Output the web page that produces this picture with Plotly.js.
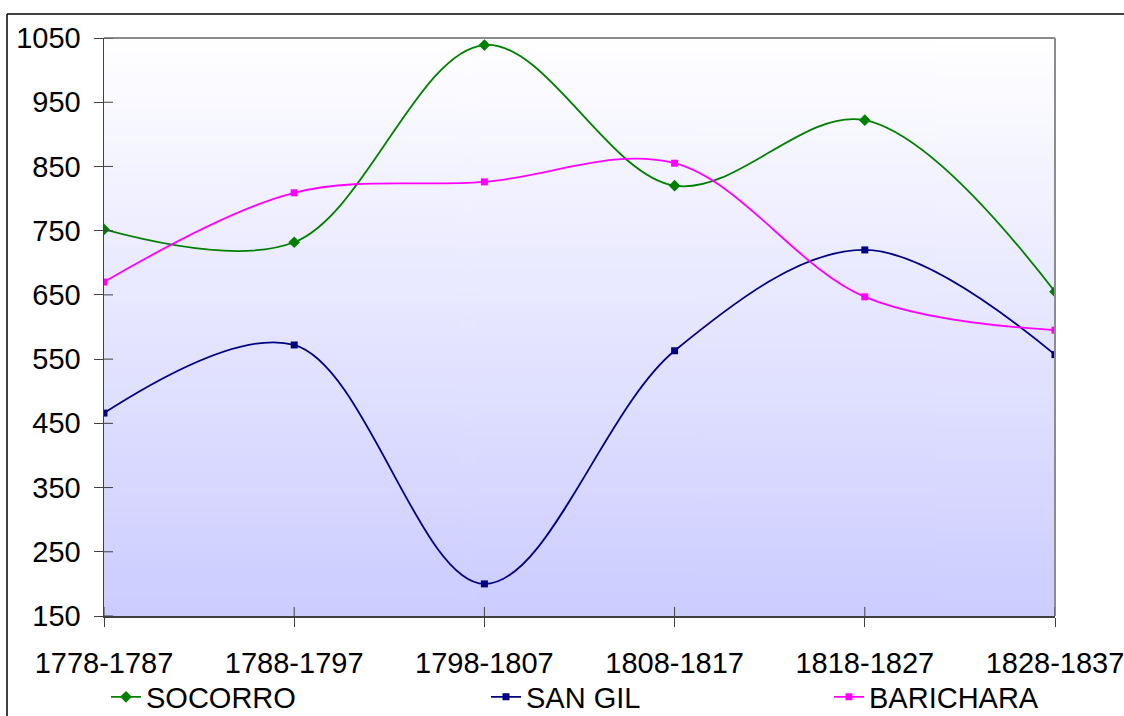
<!DOCTYPE html>
<html>
<head>
<meta charset="utf-8">
<script src="https://cdn.plot.ly/plotly-3.0.1.min.js"></script>
<style>
html,body{margin:0;padding:0;background:#fff;}
#chart{width:1124px;height:716px;}
</style>
</head>
<body>
<div id="chart"></div>
<script>
// ---- data ----
const periods = ["1778-1787","1788-1797","1798-1807","1808-1817","1818-1827","1828-1837"];
const socorro = [752, 732, 1039, 820, 922, 655];
const sanGil = [466, 572, 200, 563, 720, 557];
const barichara = [670, 809, 826, 855, 647, 595];
const yTicks = [150, 250, 350, 450, 550, 650, 750, 850, 950, 1050];

// ---- layout constants (px) ----
const W = 1124, H = 716;
const L = 104, R = 69, T = 38, B = 100;
const pw = W - L - R, ph = H - T - B;
const px2x = p => (p - L) / pw;
const py2y = p => (H - B - p) / ph;

const xIdx = periods.map((_, i) => i);

// gradient background image
const cv = document.createElement('canvas');
cv.width = 4; cv.height = 256;
const ctx = cv.getContext('2d');
const g = ctx.createLinearGradient(0, 0, 0, 256);
g.addColorStop(0, '#ffffff');
g.addColorStop(1, '#ccccff');
ctx.fillStyle = g;
ctx.fillRect(0, 0, 4, 256);
const bgURL = cv.toDataURL('image/png');

const lineW = 1.8;
const traces = [
  {x: xIdx, y: socorro, name: 'SOCORRO', type: 'scatter', mode: 'lines+markers',
   line: {color: '#008000', width: lineW, shape: 'spline', smoothing: 1},
   marker: {symbol: 'diamond', size: 9, color: '#008000'}, legend: 'legend', hoverinfo: 'skip'},
  {x: xIdx, y: sanGil, name: 'SAN GIL', type: 'scatter', mode: 'lines+markers',
   line: {color: '#000080', width: lineW, shape: 'spline', smoothing: 1},
   marker: {symbol: 'square', size: 7, color: '#000080'}, legend: 'legend2', hoverinfo: 'skip'},
  {x: xIdx, y: barichara, name: 'BARICHARA', type: 'scatter', mode: 'lines+markers',
   line: {color: '#ff00ff', width: lineW, shape: 'spline', smoothing: 1},
   marker: {symbol: 'square', size: 7, color: '#ff00ff'}, legend: 'legend3', hoverinfo: 'skip'}
];

const shapes = [];
// plot frame top & right (gray)
shapes.push({type: 'line', xref: 'paper', yref: 'paper', x0: 0, x1: 1, y0: 1, y1: 1, line: {color: '#8c8c8c', width: 2}});
shapes.push({type: 'line', xref: 'paper', yref: 'paper', x0: 1, x1: 1, y0: 0, y1: 1, line: {color: '#8c8c8c', width: 2}});
// outer chart border (left and top)
shapes.push({type: 'line', xref: 'paper', yref: 'paper', x0: px2x(7), x1: px2x(7), y0: py2y(14), y1: py2y(720), line: {color: '#000', width: 1.5}});
shapes.push({type: 'line', xref: 'paper', yref: 'paper', x0: px2x(7), x1: px2x(1130), y0: py2y(14), y1: py2y(14), line: {color: '#000', width: 1.5}});
// inner halves of cross ticks
const tl = 9;
yTicks.forEach(v => shapes.push({type: 'line', xref: 'paper', yref: 'y', x0: 0, x1: tl / pw, y0: v, y1: v, line: {color: '#404040', width: 1}}));
xIdx.forEach(i => shapes.push({type: 'line', xref: 'x', yref: 'paper', x0: i, x1: i, y0: 0, y1: tl / ph, line: {color: '#404040', width: 1}}));

const font = {family: '"Liberation Sans", Arial, sans-serif', size: 29, color: '#000'};
const legBase = {orientation: 'h', yanchor: 'middle', y: py2y(697), xanchor: 'left',
  bgcolor: 'rgba(0,0,0,0)', borderwidth: 0, font: font, itemclick: false, itemdoubleclick: false};

const layout = {
  width: W, height: H,
  margin: {l: L, r: R, t: T, b: B, pad: 0, autoexpand: false},
  paper_bgcolor: '#ffffff',
  plot_bgcolor: 'rgba(0,0,0,0)',
  font: font,
  showlegend: true,
  legend: Object.assign({}, legBase, {x: px2x(106)}),
  legend2: Object.assign({}, legBase, {x: px2x(486)}),
  legend3: Object.assign({}, legBase, {x: px2x(829)}),
  xaxis: {
    range: [0, periods.length - 1], tickvals: xIdx, ticktext: periods,
    showgrid: false, zeroline: false, showline: true, linecolor: '#404040', linewidth: 1.5,
    ticks: 'outside', ticklen: tl, tickcolor: '#404040', tickwidth: 1,
    tickfont: font, ticklabelstandoff: 12, ticklabeloverflow: 'allow', fixedrange: true
  },
  yaxis: {
    range: [150, 1050], tickvals: yTicks, ticktext: yTicks.map(String),
    showgrid: false, zeroline: false, showline: true, linecolor: '#404040', linewidth: 1.5,
    ticks: 'outside', ticklen: tl, tickcolor: '#404040', tickwidth: 1,
    tickfont: font, ticklabelstandoff: 7, ticklabeloverflow: 'allow', fixedrange: true
  },
  images: [{source: bgURL, xref: 'paper', yref: 'paper', x: 0, y: 1, sizex: 1, sizey: 1,
    sizing: 'stretch', layer: 'below', xanchor: 'left', yanchor: 'top'}],
  shapes: shapes
};

Plotly.newPlot('chart', traces, layout, {displayModeBar: false, staticPlot: true});
</script>
</body>
</html>
